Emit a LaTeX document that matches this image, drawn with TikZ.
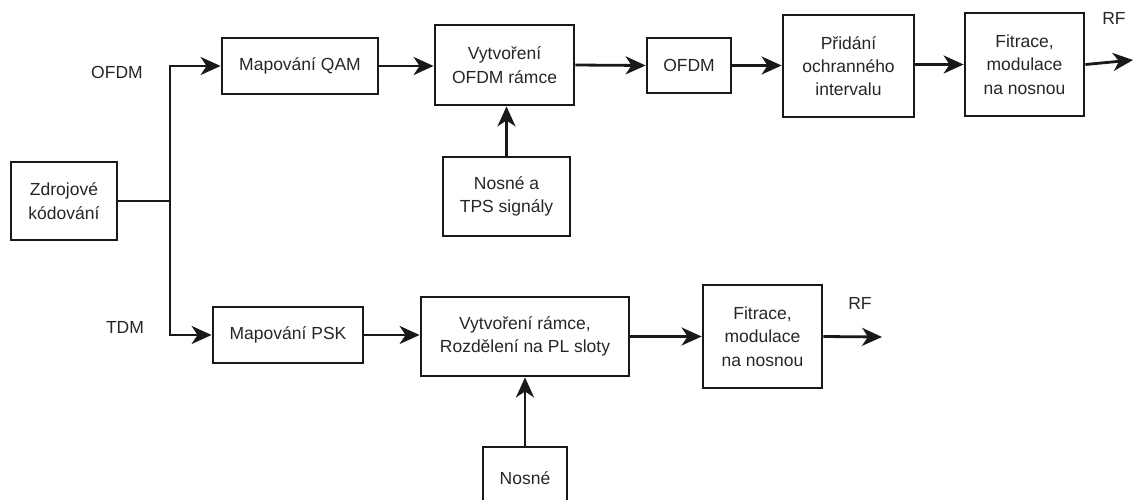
\documentclass[tikz,border=0pt]{standalone}
\usepackage{fontspec}
\setmainfont{Liberation Sans}
\usetikzlibrary{arrows.meta}
\begin{document}
\begin{tikzpicture}[x=1pt,y=-1pt,
  blk/.style={draw=black!90, line width=2.8pt, rectangle, inner sep=0pt, align=center,
    font=\fontsize{17.5}{23.3}\selectfont, text=black!85},
  lbl/.style={inner sep=0pt, font=\fontsize{17.5}{23.3}\selectfont, text=black!85},
  conn/.style={draw=black!90, line width=2.8pt, -{Stealth[length=20pt,width=18pt,inset=6pt]}},
  wire/.style={draw=black!90, line width=2.8pt}]
\useasboundingbox (0,0) rectangle (1134,499);
\node[blk, minimum width=106pt, minimum height=78pt] (zdroj) at (64,201) {Zdrojové\\kódování};
\node[blk, minimum width=156pt, minimum height=56pt] (qam) at (300,66) {Mapování QAM};
\node[blk, minimum width=139pt, minimum height=80pt] (vofdm) at (504.5,65) {Vytvoření\\OFDM rámce};
\node[blk, minimum width=84pt, minimum height=55pt] (ofdm) at (689,65.5) {OFDM};
\node[blk, minimum width=127pt, minimum height=79pt] (tps) at (506.5,196.5) {Nosné a\\TPS signály};
\node[blk, minimum width=131pt, minimum height=102pt] (prid) at (848.5,66) {Přidání\\ochranného\\intervalu};
\node[blk, minimum width=119pt, minimum height=103pt] (fita) at (1024.5,64.5) {Fitrace,\\modulace\\na nosnou};
\node[blk, minimum width=150pt, minimum height=56pt] (psk) at (288,335) {Mapování PSK};
\node[blk, minimum width=208pt, minimum height=79pt] (vram) at (525,336.5) {Vytvoření rámce,\\Rozdělení na PL sloty};
\node[blk, minimum width=119pt, minimum height=103pt] (fitb) at (762.5,336.5) {Fitrace,\\modulace\\na nosnou};
\node[blk, minimum width=84pt, minimum height=62pt] (nosne) at (525,478) {Nosné};
\node[lbl] (lofdm) at (117,72) {OFDM};
\node[lbl] (ltdm) at (125,327) {TDM};
\node[lbl] (rfa) at (1114,18) {RF};
\node[lbl] (rfb) at (860,303) {RF};
\coordinate (split) at (170,201);
\coordinate (outa) at (1133,60);
\coordinate (outb) at (882,337);
\path[wire] (zdroj.east) -- (split);
\path[conn] (split) |- (qam.west);
\path[conn] (split) |- (psk.west);
\path[conn] (qam.east) -- (vofdm.west |- qam.east);
\path[conn] (vofdm.east) -- (ofdm.west);
\path[conn] (ofdm.east) -- (prid.west |- ofdm.east);
\path[conn] (prid.east |- fita.west) -- (fita.west);
\path[conn] (fita.east) -- (outa);
\path[conn] (tps.north) -- (tps.north |- vofdm.south);
\path[conn] (psk.east) -- (vram.west |- psk.east);
\path[conn] (vram.east) -- (fitb.west);
\path[conn] (fitb.east) -- (outb);
\path[conn] (nosne.north) -- (vram.south);
\end{tikzpicture}
\end{document}
